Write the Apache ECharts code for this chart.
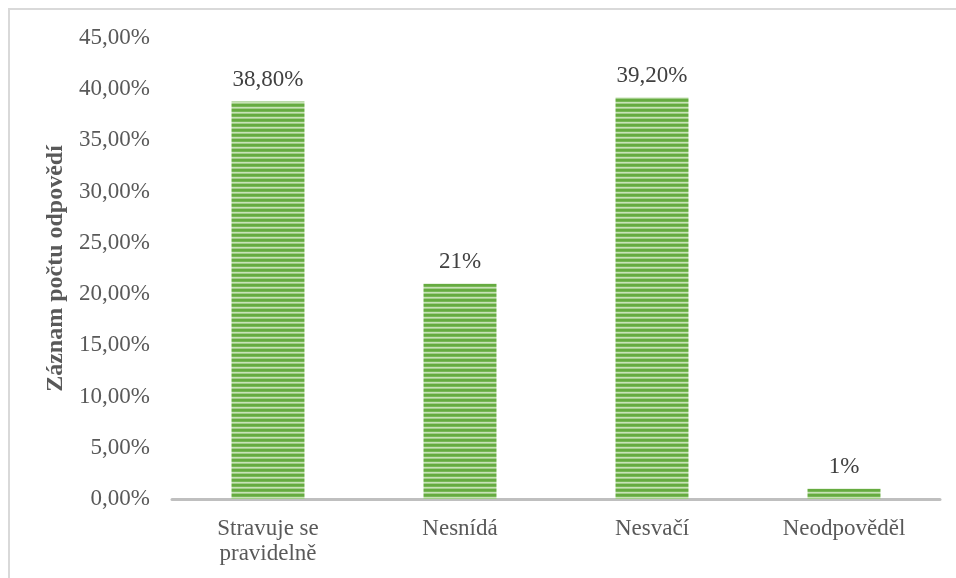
<!DOCTYPE html>
<html><head><meta charset="utf-8">
<script src="https://cdn.jsdelivr.net/npm/echarts@6/dist/echarts.min.js"></script>
<style>html,body{margin:0;padding:0;background:#fff}#c{width:956px;height:578px}</style>
</head><body><div id="c"></div>
<script>
const categories = ['Stravuje se\npravidelně', 'Nesnídá', 'Nesvačí', 'Neodpověděl'];
const values = [38.8, 21, 39.2, 1];
const valueLabels = ['38,80%', '21%', '39,20%', '1%'];
const yMax = 45;
const yInterval = 5;
const axisTitle = 'Záznam počtu odpovědí';

const pc = document.createElement('canvas');
pc.width = 4; pc.height = 5;
const g = pc.getContext('2d');
const rows = ['#66AB40', '#78B857', '#C8E2B6', '#A2CE8A', '#66AB40'];
rows.forEach((c, i) => { g.fillStyle = c; g.fillRect(0, i, 4, 1); });

const chart = echarts.init(document.getElementById('c'));
const font = '"Liberation Serif", "Times New Roman", serif';
chart.setOption({
  animation: false,
  textStyle: { fontFamily: font },
  graphic: [{
    type: 'polyline', shape: { points: [[9, 578], [9, 9], [956, 9]] },
    style: { stroke: '#D9D9D9', lineWidth: 2, fill: null }, silent: true
  }],
  grid: { left: 172, right: 16, top: 38, bottom: 79 },
  xAxis: {
    type: 'category', data: categories,
    axisLine: { lineStyle: { color: '#BFBFBF', width: 3 } },
    axisTick: { show: false },
    axisLabel: { color: '#595959', fontSize: 23, fontFamily: font, margin: 17, lineHeight: 25 }
  },
  yAxis: {
    type: 'value', min: 0, max: yMax, interval: yInterval,
    name: axisTitle, nameLocation: 'middle', nameGap: 102, nameRotate: 90,
    nameTextStyle: { color: '#595959', fontSize: 24, fontWeight: 'bold', fontFamily: font },
    axisLine: { show: false }, axisTick: { show: false }, splitLine: { show: false },
    axisLabel: {
      color: '#595959', fontSize: 23, fontFamily: font, margin: 22,
      formatter: v => v.toFixed(2).replace('.', ',') + '%'
    }
  },
  series: [{
    type: 'bar', data: values, barWidth: '38%',
    itemStyle: { color: { image: pc, repeat: 'repeat' } },
    label: {
      show: true, position: 'top', distance: 10, color: '#404040', fontSize: 23, fontFamily: font,
      formatter: p => valueLabels[p.dataIndex]
    }
  }]
});
</script></body></html>
